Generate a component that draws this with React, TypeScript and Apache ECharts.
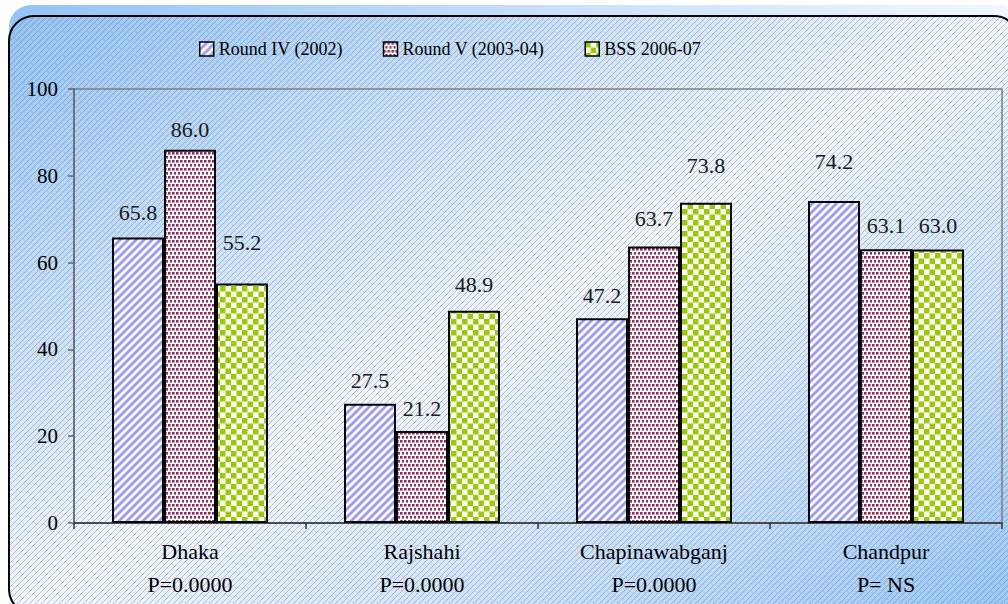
import React, { useEffect, useRef } from "react";
import * as echarts from "echarts";

const categories = ["Dhaka", "Rajshahi", "Chapinawabganj", "Chandpur"];
const pValues = ["P=0.0000", "P=0.0000", "P=0.0000", "P= NS"];
const seriesNames = ["Round IV (2002)", "Round V (2003-04)", "BSS 2006-07"];
const roundIV = [65.8, 27.5, 47.2, 74.2];
const roundV = [86.0, 21.2, 63.7, 63.1];
const bss2006 = [55.2, 48.9, 73.8, 63.0];
const yMin = 0;
const yMax = 100;
const yStep = 20;

// label lift above each bar (style only)
const labelLift = [
  [14, 12, 12, 28],
  [9, 11, 17, 13],
  [30, 15, 26, 13],
];

const FONT = "Liberation Serif";

const svgUrl = (svg: string) =>
  "data:image/svg+xml;charset=utf-8," + encodeURIComponent(svg);

const stripeSvg =
  "<svg xmlns='http://www.w3.org/2000/svg' width='8' height='8'><rect width='8' height='8' fill='#ffffff'/><path d='M-2 2L2 -2M0 8L8 0M6 10L10 6' stroke='#9999ff' stroke-width='2.8'/></svg>";
const dotSvg =
  "<svg xmlns='http://www.w3.org/2000/svg' width='4' height='8'><rect width='4' height='8' fill='#ffffff'/><rect x='0' y='0' width='2.6' height='2.6' fill='#8f2f60'/><rect x='2' y='4' width='2.6' height='2.6' fill='#8f2f60'/></svg>";
const checkSvg =
  "<svg xmlns='http://www.w3.org/2000/svg' width='11' height='11'><rect width='11' height='11' fill='#ffffff'/><rect x='0' y='0' width='5.5' height='5.5' fill='#99cc00'/><rect x='5.5' y='5.5' width='5.5' height='5.5' fill='#99cc00'/></svg>";

const hatchSvg =
  "<svg xmlns='http://www.w3.org/2000/svg' width='6' height='6'><path d='M0 6L6 0M-1 1L1 -1M5 7L7 5' stroke='#6a7280' stroke-opacity='0.6' stroke-width='0.7'/></svg>";

const patterns: any[] = [
  { image: svgUrl(stripeSvg), repeat: "repeat", imageWidth: 8, imageHeight: 8 },
  { image: svgUrl(dotSvg), repeat: "repeat", imageWidth: 4, imageHeight: 8 },
  { image: svgUrl(checkSvg), repeat: "repeat", imageWidth: 11, imageHeight: 11 },
];

const BG_GRAD =
  "linear-gradient(to bottom right, #92c3f6 0%, #c4def9 25%, #f2f7fe 50%, #c8e0fa 75%, #96c6f7 100%)";

export default function App() {
  const ref = useRef<HTMLDivElement>(null);

  useEffect(() => {
    if (!ref.current) return;
    const chart = echarts.init(ref.current, null, { renderer: "svg" });
    const allData = [roundIV, roundV, bss2006];
    const series = allData.map((arr, si) => ({
      name: seriesNames[si],
      type: "bar",
      barWidth: 52,
      barGap: "0%",
      itemStyle: { color: patterns[si], borderColor: "#000", borderWidth: 2 },
      label: {
        show: true,
        position: "top",
        fontFamily: FONT,
        fontSize: 22,
        color: "#1a1a1a",
        formatter: (p: any) => Number(p.value).toFixed(1),
      },
      data: arr.map((v, i) => ({
        value: v,
        label: { distance: labelLift[si][i] },
      })),
    }));

    chart.setOption({
      animation: false,
      backgroundColor: "transparent",
      textStyle: { fontFamily: FONT },
      legend: {
        top: 35,
        left: 194,
        itemWidth: 14,
        itemHeight: 14,
        itemGap: 40,
        icon: "rect",
        itemStyle: { borderColor: "#000", borderWidth: 1.5 },
        textStyle: { fontFamily: FONT, fontSize: 18, color: "#000" },
        data: seriesNames,
      },
      grid: {
        left: 74,
        right: 6,
        top: 89,
        bottom: 81,
        show: true,
        borderColor: "#808080",
        borderWidth: 1.5,
        backgroundColor: "transparent",
      },
      xAxis: {
        type: "category",
        data: categories,
        axisLine: { lineStyle: { color: "#333", width: 1.5 } },
        axisTick: { show: true, length: 6, lineStyle: { color: "#333", width: 1.5 } },
        axisLabel: {
          margin: 12,
          interval: 0,
          formatter: (v: string, i: number) => `{a|${v}}\n{b|${pValues[i]}}`,
          rich: {
            a: { fontFamily: FONT, fontSize: 22, lineHeight: 33, color: "#000" },
            b: { fontFamily: FONT, fontSize: 22, lineHeight: 33, color: "#000" },
          },
        },
      },
      yAxis: {
        type: "value",
        min: yMin,
        max: yMax,
        interval: yStep,
        axisLine: { show: true, lineStyle: { color: "#666", width: 1.5 } },
        axisTick: { show: true, length: 6, lineStyle: { color: "#666", width: 1.5 } },
        splitLine: { show: false },
        axisLabel: { fontFamily: FONT, fontSize: 21, color: "#000", margin: 16 },
      },
      series,
    });
    return () => chart.dispose();
  }, []);

  return (
    <div
      style={{
        position: "fixed",
        left: 0,
        top: 0,
        width: 1008,
        height: 604,
        overflow: "hidden",
        background: "#ffffff",
      }}
    >
      <div
        style={{
          position: "absolute",
          left: 9,
          top: 5,
          width: 1012,
          height: 600,
          borderRadius: 22,
          background: BG_GRAD,
        }}
      />
      <div
        style={{
          position: "absolute",
          left: 8,
          top: 15,
          width: 1012,
          height: 600,
          boxSizing: "border-box",
          border: "2px solid #000",
          borderRadius: 26,
          backgroundImage: `url("${svgUrl(hatchSvg)}"), ${BG_GRAD}`,
          backgroundSize: "6px 6px, 100% 100%",
          backgroundRepeat: "repeat, no-repeat",
        }}
      />
      <div
        ref={ref}
        style={{ position: "absolute", left: 0, top: 0, width: 1008, height: 604 }}
      />
    </div>
  );
}
